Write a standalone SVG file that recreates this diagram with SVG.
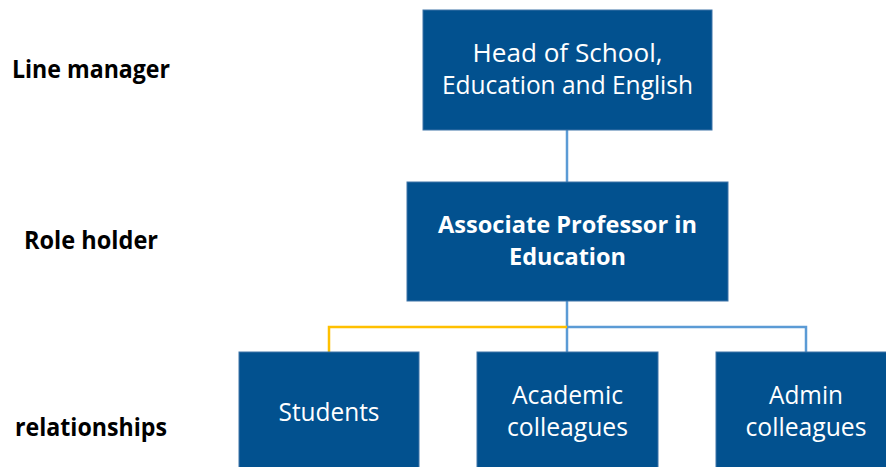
<svg xmlns="http://www.w3.org/2000/svg" width="886" height="467" viewBox="0 0 886 467">
<style>
.box{fill:#02518f;stroke:#3f74a8;stroke-width:1}
.t{font-family:"Open Sans","Noto Sans",sans-serif;font-size:25.5px;fill:#ffffff;text-anchor:middle}
.b{font-weight:bold;font-size:24px}
.lab{font-family:"Open Sans","Noto Sans",sans-serif;font-size:25px;font-weight:bold;fill:#000000}
.cb{fill:none;stroke:#5b9bd5;stroke-width:2.5}
.cy{fill:none;stroke:#ffc000;stroke-width:2.5}
</style>
<rect width="886" height="467" fill="#ffffff"/>
<g id="labels">
<text class="lab" x="12" y="78" textLength="158" lengthAdjust="spacingAndGlyphs">Line manager</text>
<text class="lab" x="24" y="249" textLength="134" lengthAdjust="spacingAndGlyphs">Role holder</text>
<text class="lab" x="15" y="436" textLength="152" lengthAdjust="spacingAndGlyphs">relationships</text>
</g>
<g id="connectors">
<line class="cb" x1="567" y1="130" x2="567" y2="182"/>
<line class="cb" x1="567" y1="301" x2="567" y2="352"/>
<polyline class="cy" points="329,352 329,327 567,327"/>
<polyline class="cb" points="567,327 806,327 806,352"/>
</g>
<g id="head">
<rect class="box" x="423" y="10" width="289" height="120"/>
<text class="t" x="567.5" y="62" textLength="190" lengthAdjust="spacingAndGlyphs">Head of School,</text>
<text class="t" x="567.5" y="94" textLength="251" lengthAdjust="spacingAndGlyphs">Education and English</text>
</g>
<g id="role">
<rect class="box" x="407" y="182" width="321" height="119"/>
<text class="t b" x="567.5" y="233" textLength="259" lengthAdjust="spacingAndGlyphs">Associate Professor in</text>
<text class="t b" x="567.5" y="265" textLength="117" lengthAdjust="spacingAndGlyphs">Education</text>
</g>
<g id="students">
<rect class="box" x="239" y="352" width="180" height="120"/>
<text class="t" x="329" y="421" textLength="101" lengthAdjust="spacingAndGlyphs">Students</text>
</g>
<g id="academic">
<rect class="box" x="477" y="352" width="181" height="120"/>
<text class="t" x="567.5" y="404" textLength="111" lengthAdjust="spacingAndGlyphs">Academic</text>
<text class="t" x="567.5" y="436" textLength="121" lengthAdjust="spacingAndGlyphs">colleagues</text>
</g>
<g id="admin">
<rect class="box" x="716" y="352" width="181" height="120"/>
<text class="t" x="806" y="404" textLength="74" lengthAdjust="spacingAndGlyphs">Admin</text>
<text class="t" x="806" y="436" textLength="121" lengthAdjust="spacingAndGlyphs">colleagues</text>
</g>
</svg>
